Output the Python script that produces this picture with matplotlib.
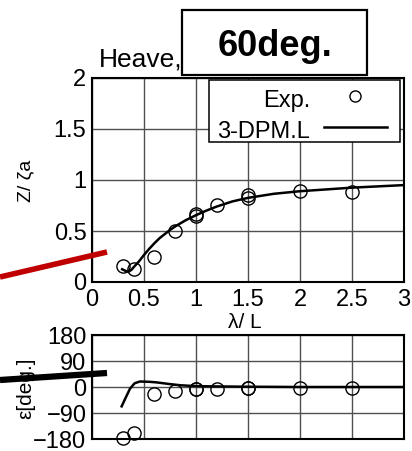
import numpy as np
import matplotlib
matplotlib.use("Agg")
import matplotlib.pyplot as plt
from matplotlib.patches import Rectangle
from matplotlib.lines import Line2D

plt.rcParams['font.family'] = ['Liberation Sans', 'DejaVu Sans']

# experiment (circles)
lam_exp = [0.3, 0.4, 0.6, 0.8, 1.0, 1.0, 1.2, 1.5, 1.5, 2.0, 2.5]
amp_exp = [0.16, 0.13, 0.25, 0.50, 0.67, 0.65, 0.75, 0.85, 0.82, 0.895, 0.88]
phase_exp = [-177, -160, -25, -14, -7, -6, -7, -5, -4, -2, -2]

# 3-DPM.L calculation
lam_amp = [0.29, 0.32, 0.35, 0.38, 0.40, 0.45, 0.5, 0.55, 0.6, 0.65, 0.7, 0.75,
           0.8, 0.9, 1.0, 1.1, 1.2, 1.35, 1.5, 1.75, 2.0, 2.5, 3.0]
amp_calc = [0.125, 0.11, 0.10, 0.12, 0.145, 0.20, 0.265, 0.325, 0.38, 0.43,
            0.47, 0.51, 0.545, 0.605, 0.655, 0.70, 0.74, 0.79, 0.825, 0.865,
            0.89, 0.925, 0.95]
lam_ph = [0.285, 0.32, 0.365, 0.41, 0.46, 0.55, 0.62, 0.75, 0.85, 1.0, 1.2,
          1.5, 2.0, 2.5, 3.0]
phase_calc = [-67, -40, -6, 13, 19, 18, 16, 10, 6, 3, 2, 1, 0, 0, 0]

W, H = 412, 451
fig = plt.figure(figsize=(W / 100, H / 100), dpi=100)


def px_axes(x0, y0, x1, y1):
    return fig.add_axes([x0 / W, 1 - y1 / H, (x1 - x0) / W, (y1 - y0) / H])


def style(ax):
    ax.grid(True, color='#505050', lw=1.0)
    ax.set_axisbelow(True)
    for s in ax.spines.values():
        s.set_linewidth(1.5)
    ax.tick_params(length=0, labelsize=17, pad=4)


ax1 = px_axes(92, 78, 404, 282)
ax1.plot(lam_amp, amp_calc, color='black', lw=1.8)
ax1.plot(lam_exp, amp_exp, 'o', mfc='none', mec='black', ms=9.5, mew=1.0, clip_on=False)
ax1.set_xlim(0, 3)
ax1.set_ylim(0, 2)
ax1.set_xticks(np.arange(0, 3.01, 0.5))
ax1.set_xticklabels(['0', '0.5', '1', '1.5', '2', '2.5', '3'])
ax1.set_yticks(np.arange(0, 2.01, 0.5))
ax1.set_yticklabels(['0', '0.5', '1', '1.5', '2'])
style(ax1)
ax1.tick_params(axis='x', pad=5)

# legend box drawn by hand: labels on the left, symbols on the right
ax1.add_patch(Rectangle((0.375, 0.684), 0.612, 0.306, transform=ax1.transAxes,
                        fc='white', ec='black', lw=1.1, zorder=5))
ax1.text(0.699, 0.859, 'Exp.', transform=ax1.transAxes, ha='right', va='baseline',
         fontsize=17, zorder=6)
ax1.text(0.699, 0.707, '3-DPM.L', transform=ax1.transAxes, ha='right', va='baseline',
         fontsize=17, zorder=6)
ax1.add_line(Line2D([0.843], [0.912], transform=ax1.transAxes, marker='o', mfc='none',
                    mec='black', ms=8, mew=1.0, zorder=6))
ax1.add_line(Line2D([0.745, 0.945], [0.761, 0.761], transform=ax1.transAxes,
                    color='black', lw=1.8, zorder=6))

ax2 = px_axes(92, 335, 404, 439)
ax2.plot(lam_ph, phase_calc, color='black', lw=1.8)
ax2.plot(lam_exp, phase_exp, 'o', mfc='none', mec='black', ms=9.5, mew=1.0, clip_on=False)
ax2.set_xlim(0, 3)
ax2.set_ylim(-180, 180)
ax2.set_xticks(np.arange(0, 3.01, 0.5))
ax2.set_xticklabels([])
ax2.set_yticks([-180, -90, 0, 90, 180])
style(ax2)

fig.text(26 / W, 1 - 181 / H, 'Z/ ζa', rotation=90, ha='center', va='center', fontsize=14)
fig.text(245 / W, 1 - 323 / H, 'λ/ L', ha='center', va='center', fontsize=15)
fig.text(26 / W, 1 - 388 / H, 'ε[deg.]', rotation=90, ha='center', va='center', fontsize=15)

fig.text(99 / W, 1 - 67 / H, 'Heave,', ha='left', va='baseline', fontsize=19)
fig.add_artist(Rectangle((182 / W, 1 - 75 / H), 185 / W, 65 / H, transform=fig.transFigure,
                         fc='white', ec='black', lw=1.6))
fig.text(275 / W, 1 - 56 / H, '60deg.', ha='center', va='baseline', fontsize=26,
         fontweight='bold')

# pointer strokes on the left
fig.add_artist(Line2D([0, 107 / W], [1 - 277 / H, 1 - 252 / H], transform=fig.transFigure,
                      color='#c00000', lw=4, solid_capstyle='butt'))
fig.add_artist(Line2D([0, 107 / W], [1 - 380 / H, 1 - 373 / H], transform=fig.transFigure,
                      color='black', lw=4.5, solid_capstyle='butt'))

fig.savefig('out.png', dpi=100)
